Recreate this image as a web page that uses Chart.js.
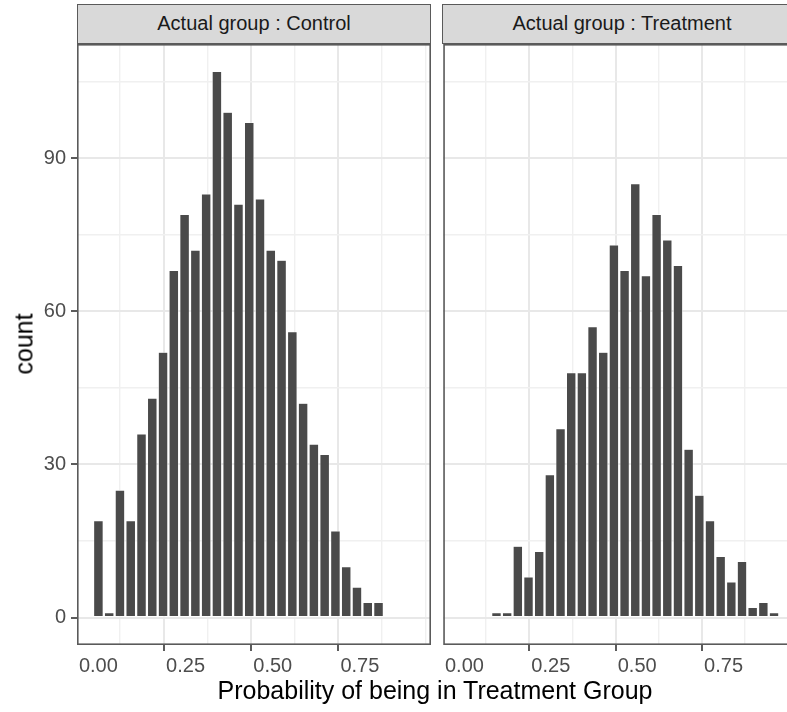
<!DOCTYPE html>
<html>
<head>
<meta charset="utf-8">
<script src="https://cdn.jsdelivr.net/npm/chart.js@4.4.0/dist/chart.umd.min.js"></script>
<style>
  html, body { margin: 0; padding: 0; background: #ffffff; }
  body { width: 787px; height: 712px; overflow: hidden; position: relative;
         font-family: "Liberation Sans", Arial, Helvetica, sans-serif; }
  .holder { position: absolute; top: 0; }
  .strip { position: absolute; top: 4px; height: 40px; box-sizing: border-box;
           background: #d9d9d9; border: 1.5px solid #5a5a5a; color: #1a1a1a;
           font-size: 20px; line-height: 37px; text-align: center; white-space: nowrap; }
  .xtitle { position: absolute; left: 77px; width: 716px; top: 676px; text-align: center;
            font-size: 25px; color: #000; white-space: nowrap; }
  .ytitle { position: absolute; left: 24px; top: 344px; transform: translate(-50%, -50%) rotate(-90deg);
            font-size: 25px; color: #000; white-space: nowrap; }
</style>
</head>
<body>
<div class="holder" style="left:0px;"><canvas id="left" width="431" height="712"></canvas></div>
<div class="holder" style="left:442px;"><canvas id="right" width="352" height="712"></canvas></div>
<div class="strip" id="stripL" style="left:77px;width:354px;"></div>
<div class="strip" id="stripR" style="left:442px;width:360px;"></div>
<div class="xtitle" id="xtitle"></div>
<div class="ytitle" id="ytitle"></div>
<script>
// ---------- data ----------
const panelLabels = ["Actual group : Control", "Actual group : Treatment"];
const xTitle = "Probability of being in Treatment Group";
const yTitle = "count";
const binCenters = [0.0000, 0.0309, 0.0618, 0.0927, 0.1236, 0.1545, 0.1854, 0.2163, 0.2472, 0.2781,
                    0.3090, 0.3399, 0.3708, 0.4017, 0.4326, 0.4635, 0.4944, 0.5253, 0.5562, 0.5871,
                    0.6180, 0.6489, 0.6798, 0.7107, 0.7416, 0.7725, 0.8034, 0.8343, 0.8652, 0.8961];
const controlCounts   = [19, 1, 25, 19, 36, 43, 52, 68, 79, 72, 83, 107, 99, 81, 97, 82, 72, 70, 56, 42,
                         34, 32, 17, 10, 6, 3, 3, 0, 0, 0];
const treatmentCounts = [0, 0, 0, 1, 1, 14, 8, 13, 28, 37, 48, 48, 57, 52, 73, 68, 85, 67, 79, 74,
                         69, 33, 24, 19, 12, 7, 11, 2, 3, 1];
const xMajorTicks = [0, 0.25, 0.5, 0.75];
const xMinorTicks = [0.125, 0.375, 0.625, 0.875];
const yMajorTicks = [0, 30, 60, 90];
const yMinorTicks = [15, 45, 75, 105];

// ---------- text ----------
document.getElementById('stripL').textContent = panelLabels[0];
document.getElementById('stripR').textContent = panelLabels[1];
document.getElementById('xtitle').textContent = xTitle;
document.getElementById('ytitle').textContent = yTitle;

const isMajor = (list, v) => list.some(m => Math.abs(m - v) < 1e-9);

const panelBorder = {
  id: 'panelBorder',
  afterDraw(chart) {
    const a = chart.chartArea, ctx = chart.ctx;
    ctx.save();
    ctx.strokeStyle = '#5a5a5a';
    ctx.lineWidth = 1.6;
    ctx.strokeRect(a.left + 0.8, a.top + 0.8, a.right - a.left - 1.6, a.bottom - a.top - 1.6);
    ctx.restore();
  }
};

function makePanel(id, counts, showY) {
  const ctx = document.getElementById(id);
  return new Chart(ctx, {
    type: 'bar',
    data: {
      datasets: [{
        data: binCenters.map((x, i) => ({ x: x, y: counts[i] })),
        backgroundColor: '#4a4a4a',
        borderColor: '#ffffff',
        borderWidth: 0.6,
        borderSkipped: false,
        barPercentage: 0.9,
        categoryPercentage: 1.0
      }]
    },
    plugins: [panelBorder],
    options: {
      responsive: false,
      animation: false,
      devicePixelRatio: 1,
      layout: { padding: { top: 44, right: 0, bottom: 0, left: 0 } },
      plugins: { legend: { display: false }, tooltip: { enabled: false } },
      scales: {
        x: {
          type: 'linear',
          min: -0.0614, max: 0.9539,
          offset: false,
          afterBuildTicks: s => { s.ticks = xMajorTicks.concat(xMinorTicks).sort((a, b) => a - b).map(v => ({ value: v })); },
          afterFit: s => { s.height = 712 - 645; },
          border: { display: false },
          grid: {
            color: c => (c.tick && isMajor(xMajorTicks, c.tick.value)) ? '#e8e8e8' : '#f0f0f0',
            lineWidth: c => (c.tick && isMajor(xMajorTicks, c.tick.value)) ? 2 : 1.4,
            drawTicks: true,
            tickLength: 6,
            tickWidth: 1.6,
            tickColor: c => (c.tick && isMajor(xMajorTicks, c.tick.value)) ? '#333333' : 'rgba(0,0,0,0)'
          },
          ticks: {
            autoSkip: false, maxRotation: 0,
            color: '#4d4d4d', padding: 3,
            font: { family: '"Liberation Sans", Arial, sans-serif', size: 20 },
            callback: v => isMajor(xMajorTicks, v) ? v.toFixed(2) : ''
          }
        },
        y: {
          min: -5.35, max: 112.35,
          afterBuildTicks: s => { s.ticks = yMajorTicks.concat(yMinorTicks).sort((a, b) => a - b).map(v => ({ value: v })); },
          afterFit: s => { s.width = showY ? 77 : 0; },
          border: { display: false },
          grid: {
            color: c => (c.tick && isMajor(yMajorTicks, c.tick.value)) ? '#e8e8e8' : '#f0f0f0',
            lineWidth: c => (c.tick && isMajor(yMajorTicks, c.tick.value)) ? 2 : 1.4,
            drawTicks: showY,
            tickLength: 6,
            tickWidth: 1.6,
            tickColor: c => (c.tick && isMajor(yMajorTicks, c.tick.value)) ? '#333333' : 'rgba(0,0,0,0)'
          },
          ticks: {
            display: showY,
            autoSkip: false,
            color: '#4d4d4d', padding: 5,
            font: { family: '"Liberation Sans", Arial, sans-serif', size: 20 },
            callback: v => isMajor(yMajorTicks, v) ? String(v) : ''
          }
        }
      }
    }
  });
}

makePanel('left', controlCounts, true);
makePanel('right', treatmentCounts, false);
</script>
</body>
</html>
